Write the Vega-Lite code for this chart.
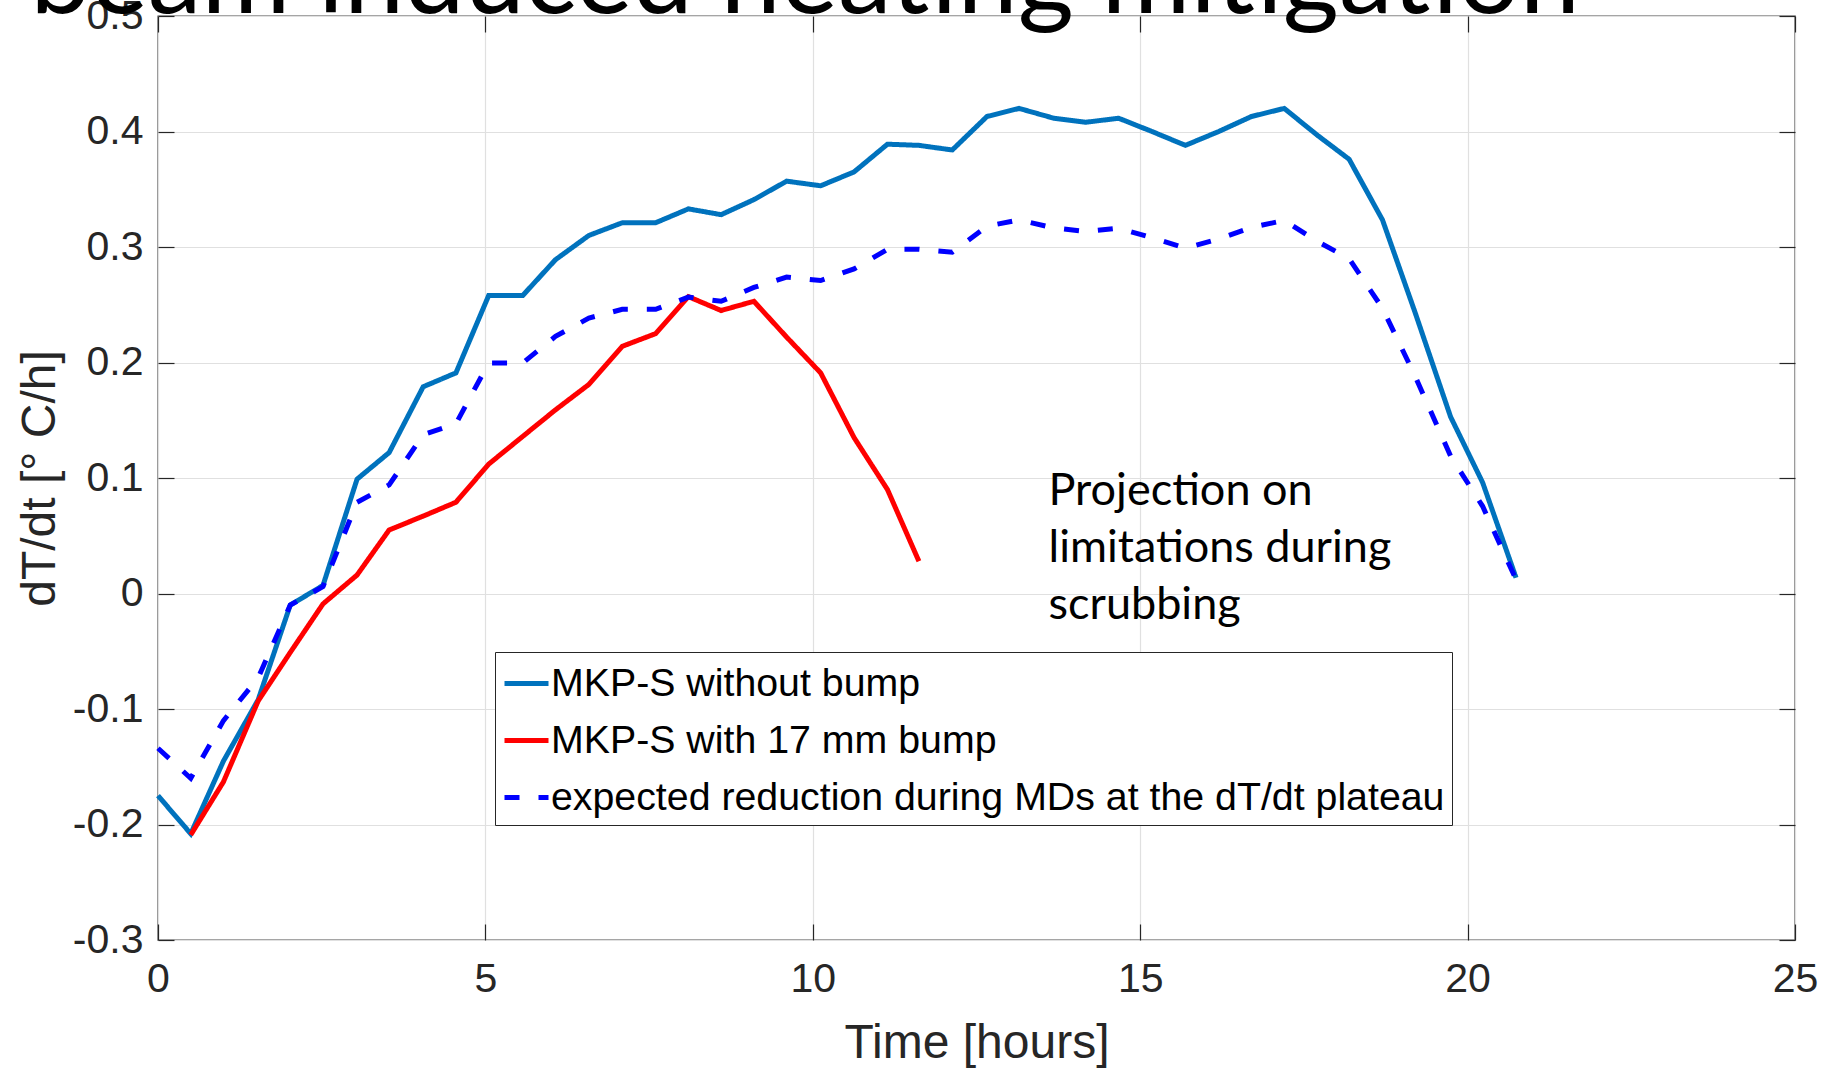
{
  "$schema": "https://vega.github.io/schema/vega-lite/v6.json",
  "width": 1637,
  "height": 924,
  "autosize": {"type": "none"},
  "padding": {"left": 158, "top": 16, "right": 40, "bottom": 129},
  "background": "white",
  "config": {
    "view": {"stroke": "#4d4d4d", "strokeWidth": 1.4},
    "axis": {
      "labelFont": "Liberation Sans",
      "titleFont": "Liberation Sans",
      "labelColor": "#262626",
      "titleColor": "#262626",
      "tickColor": "#262626",
      "tickWidth": 1.2,
      "gridColor": "#e0e0e0",
      "gridWidth": 1.2,
      "domain": false
    },
    "legend": {
      "orient": "none",
      "legendX": 337,
      "legendY": 636,
      "direction": "vertical",
      "padding": 7,
      "strokeColor": "#262626",
      "fillColor": "white",
      "labelFont": "Liberation Sans",
      "labelFontSize": 39.3,
      "labelColor": "black",
      "labelLimit": 2000,
      "labelOffset": 0,
      "symbolType": "stroke",
      "symbolSize": 1936,
      "symbolStrokeWidth": 5,
      "rowPadding": 12
    }
  },
  "datasets": {
    "curves": [
      {"t": 0, "v": -0.175, "s": "MKP-S without bump"},
      {"t": 0.5, "v": -0.208, "s": "MKP-S without bump"},
      {"t": 1.0, "v": -0.145, "s": "MKP-S without bump"},
      {"t": 1.53, "v": -0.092, "s": "MKP-S without bump"},
      {"t": 2.02, "v": -0.01, "s": "MKP-S without bump"},
      {"t": 2.52, "v": 0.007, "s": "MKP-S without bump"},
      {"t": 3.04, "v": 0.099, "s": "MKP-S without bump"},
      {"t": 3.53, "v": 0.122, "s": "MKP-S without bump"},
      {"t": 4.05, "v": 0.179, "s": "MKP-S without bump"},
      {"t": 4.55, "v": 0.191, "s": "MKP-S without bump"},
      {"t": 5.05, "v": 0.258, "s": "MKP-S without bump"},
      {"t": 5.57, "v": 0.258, "s": "MKP-S without bump"},
      {"t": 6.07, "v": 0.289, "s": "MKP-S without bump"},
      {"t": 6.58, "v": 0.31, "s": "MKP-S without bump"},
      {"t": 7.09, "v": 0.321, "s": "MKP-S without bump"},
      {"t": 7.6, "v": 0.321, "s": "MKP-S without bump"},
      {"t": 8.1, "v": 0.333, "s": "MKP-S without bump"},
      {"t": 8.6, "v": 0.328, "s": "MKP-S without bump"},
      {"t": 9.1, "v": 0.341, "s": "MKP-S without bump"},
      {"t": 9.6, "v": 0.357, "s": "MKP-S without bump"},
      {"t": 10.12, "v": 0.353, "s": "MKP-S without bump"},
      {"t": 10.63, "v": 0.365, "s": "MKP-S without bump"},
      {"t": 11.14, "v": 0.389, "s": "MKP-S without bump"},
      {"t": 11.62, "v": 0.388, "s": "MKP-S without bump"},
      {"t": 12.13, "v": 0.384, "s": "MKP-S without bump"},
      {"t": 12.66, "v": 0.413, "s": "MKP-S without bump"},
      {"t": 13.15, "v": 0.42, "s": "MKP-S without bump"},
      {"t": 13.68, "v": 0.4115, "s": "MKP-S without bump"},
      {"t": 14.17, "v": 0.408, "s": "MKP-S without bump"},
      {"t": 14.67, "v": 0.4115, "s": "MKP-S without bump"},
      {"t": 15.18, "v": 0.4, "s": "MKP-S without bump"},
      {"t": 15.69, "v": 0.388, "s": "MKP-S without bump"},
      {"t": 16.2, "v": 0.4, "s": "MKP-S without bump"},
      {"t": 16.7, "v": 0.413, "s": "MKP-S without bump"},
      {"t": 17.2, "v": 0.42, "s": "MKP-S without bump"},
      {"t": 17.7, "v": 0.397, "s": "MKP-S without bump"},
      {"t": 18.19, "v": 0.376, "s": "MKP-S without bump"},
      {"t": 18.7, "v": 0.3235, "s": "MKP-S without bump"},
      {"t": 19.2, "v": 0.243, "s": "MKP-S without bump"},
      {"t": 19.74, "v": 0.153, "s": "MKP-S without bump"},
      {"t": 20.23, "v": 0.096, "s": "MKP-S without bump"},
      {"t": 20.74, "v": 0.0136, "s": "MKP-S without bump"},
      {"t": 0.5, "v": -0.209, "s": "MKP-S with 17 mm bump"},
      {"t": 1.0, "v": -0.163, "s": "MKP-S with 17 mm bump"},
      {"t": 1.53, "v": -0.093, "s": "MKP-S with 17 mm bump"},
      {"t": 2.02, "v": -0.051, "s": "MKP-S with 17 mm bump"},
      {"t": 2.52, "v": -0.009, "s": "MKP-S with 17 mm bump"},
      {"t": 3.04, "v": 0.016, "s": "MKP-S with 17 mm bump"},
      {"t": 3.53, "v": 0.055, "s": "MKP-S with 17 mm bump"},
      {"t": 4.05, "v": 0.067, "s": "MKP-S with 17 mm bump"},
      {"t": 4.55, "v": 0.079, "s": "MKP-S with 17 mm bump"},
      {"t": 5.05, "v": 0.112, "s": "MKP-S with 17 mm bump"},
      {"t": 5.57, "v": 0.136, "s": "MKP-S with 17 mm bump"},
      {"t": 6.07, "v": 0.159, "s": "MKP-S with 17 mm bump"},
      {"t": 6.58, "v": 0.181, "s": "MKP-S with 17 mm bump"},
      {"t": 7.09, "v": 0.214, "s": "MKP-S with 17 mm bump"},
      {"t": 7.6, "v": 0.225, "s": "MKP-S with 17 mm bump"},
      {"t": 8.1, "v": 0.257, "s": "MKP-S with 17 mm bump"},
      {"t": 8.6, "v": 0.245, "s": "MKP-S with 17 mm bump"},
      {"t": 9.1, "v": 0.253, "s": "MKP-S with 17 mm bump"},
      {"t": 9.6, "v": 0.222, "s": "MKP-S with 17 mm bump"},
      {"t": 10.12, "v": 0.191, "s": "MKP-S with 17 mm bump"},
      {"t": 10.63, "v": 0.135, "s": "MKP-S with 17 mm bump"},
      {"t": 11.14, "v": 0.09, "s": "MKP-S with 17 mm bump"},
      {"t": 11.62, "v": 0.028, "s": "MKP-S with 17 mm bump"},
      {"t": 0, "v": -0.134, "s": "expected reduction during MDs at the dT/dt plateau"},
      {"t": 0.5, "v": -0.16, "s": "expected reduction during MDs at the dT/dt plateau"},
      {"t": 1.0, "v": -0.11, "s": "expected reduction during MDs at the dT/dt plateau"},
      {"t": 1.53, "v": -0.073, "s": "expected reduction during MDs at the dT/dt plateau"},
      {"t": 2.02, "v": -0.01, "s": "expected reduction during MDs at the dT/dt plateau"},
      {"t": 2.52, "v": 0.006, "s": "expected reduction during MDs at the dT/dt plateau"},
      {"t": 3.04, "v": 0.079, "s": "expected reduction during MDs at the dT/dt plateau"},
      {"t": 3.53, "v": 0.094, "s": "expected reduction during MDs at the dT/dt plateau"},
      {"t": 4.05, "v": 0.1375, "s": "expected reduction during MDs at the dT/dt plateau"},
      {"t": 4.55, "v": 0.147, "s": "expected reduction during MDs at the dT/dt plateau"},
      {"t": 5.05, "v": 0.1996, "s": "expected reduction during MDs at the dT/dt plateau"},
      {"t": 5.57, "v": 0.1996, "s": "expected reduction during MDs at the dT/dt plateau"},
      {"t": 6.07, "v": 0.2226, "s": "expected reduction during MDs at the dT/dt plateau"},
      {"t": 6.58, "v": 0.2385, "s": "expected reduction during MDs at the dT/dt plateau"},
      {"t": 7.09, "v": 0.246, "s": "expected reduction during MDs at the dT/dt plateau"},
      {"t": 7.6, "v": 0.246, "s": "expected reduction during MDs at the dT/dt plateau"},
      {"t": 8.1, "v": 0.2566, "s": "expected reduction during MDs at the dT/dt plateau"},
      {"t": 8.6, "v": 0.253, "s": "expected reduction during MDs at the dT/dt plateau"},
      {"t": 9.1, "v": 0.265, "s": "expected reduction during MDs at the dT/dt plateau"},
      {"t": 9.6, "v": 0.274, "s": "expected reduction during MDs at the dT/dt plateau"},
      {"t": 10.12, "v": 0.271, "s": "expected reduction during MDs at the dT/dt plateau"},
      {"t": 10.63, "v": 0.281, "s": "expected reduction during MDs at the dT/dt plateau"},
      {"t": 11.14, "v": 0.298, "s": "expected reduction during MDs at the dT/dt plateau"},
      {"t": 11.62, "v": 0.298, "s": "expected reduction during MDs at the dT/dt plateau"},
      {"t": 12.13, "v": 0.2955, "s": "expected reduction during MDs at the dT/dt plateau"},
      {"t": 12.66, "v": 0.318, "s": "expected reduction during MDs at the dT/dt plateau"},
      {"t": 13.15, "v": 0.3235, "s": "expected reduction during MDs at the dT/dt plateau"},
      {"t": 13.68, "v": 0.3165, "s": "expected reduction during MDs at the dT/dt plateau"},
      {"t": 14.17, "v": 0.3134, "s": "expected reduction during MDs at the dT/dt plateau"},
      {"t": 14.67, "v": 0.3163, "s": "expected reduction during MDs at the dT/dt plateau"},
      {"t": 15.18, "v": 0.308, "s": "expected reduction during MDs at the dT/dt plateau"},
      {"t": 15.69, "v": 0.299, "s": "expected reduction during MDs at the dT/dt plateau"},
      {"t": 16.2, "v": 0.307, "s": "expected reduction during MDs at the dT/dt plateau"},
      {"t": 16.7, "v": 0.317, "s": "expected reduction during MDs at the dT/dt plateau"},
      {"t": 17.2, "v": 0.323, "s": "expected reduction during MDs at the dT/dt plateau"},
      {"t": 17.7, "v": 0.305, "s": "expected reduction during MDs at the dT/dt plateau"},
      {"t": 18.19, "v": 0.29, "s": "expected reduction during MDs at the dT/dt plateau"},
      {"t": 18.7, "v": 0.247, "s": "expected reduction during MDs at the dT/dt plateau"},
      {"t": 19.2, "v": 0.188, "s": "expected reduction during MDs at the dT/dt plateau"},
      {"t": 19.74, "v": 0.119, "s": "expected reduction during MDs at the dT/dt plateau"},
      {"t": 20.23, "v": 0.0755, "s": "expected reduction during MDs at the dT/dt plateau"},
      {"t": 20.74, "v": 0.012, "s": "expected reduction during MDs at the dT/dt plateau"}
    ],
    "note": [
      {"tx": 13.6, "ty": 0.0888, "txt": "Projection on\nlimitations during\nscrubbing"}
    ],
    "heading": [
      {"tx": -1.95, "ty": 0.5026, "txt": "beam induced heating mitigation"}
    ]
  },
  "layer": [
    {
      "data": {"name": "curves"},
      "mark": {"type": "line", "strokeWidth": 5, "clip": false},
      "encoding": {
        "x": {
          "field": "t",
          "type": "quantitative",
          "scale": {"domain": [0, 25], "nice": false, "zero": false},
          "axis": {
            "values": [0, 5, 10, 15, 20, 25],
            "title": "Time [hours]",
            "labelFontSize": 41,
            "titleFontSize": 48,
            "titleFontWeight": "normal",
            "tickSize": -16,
            "labelPadding": 35,
            "titlePadding": 20,
            "grid": true,
            "labelFlush": false,
            "labelOverlap": false
          }
        },
        "y": {
          "field": "v",
          "type": "quantitative",
          "scale": {"domain": [-0.3, 0.5], "nice": false, "zero": false},
          "axis": {
            "values": [-0.3, -0.2, -0.1, 0, 0.1, 0.2, 0.3, 0.4, 0.5],
            "format": ".1~f",
            "labelExpr": "replace(datum.label, '−', '-')",
            "title": "dT/dt [° C/h]",
            "labelFontSize": 41,
            "titleFontSize": 48,
            "titleFontWeight": "normal",
            "tickSize": -16,
            "labelPadding": 31,
            "titlePadding": 8,
            "grid": true,
            "labelFlush": false,
            "labelOverlap": false
          }
        },
        "color": {
          "field": "s",
          "type": "nominal",
          "scale": {
            "domain": ["MKP-S without bump", "MKP-S with 17 mm bump", "expected reduction during MDs at the dT/dt plateau"],
            "range": ["#0072BD", "#FF0000", "#0000FF"]
          },
          "legend": {"title": null}
        },
        "strokeDash": {
          "field": "s",
          "type": "nominal",
          "scale": {
            "domain": ["MKP-S without bump", "MKP-S with 17 mm bump", "expected reduction during MDs at the dT/dt plateau"],
            "range": [[1, 0], [1, 0], [15, 19]]
          },
          "legend": {"title": null}
        }
      }
    },
    {
      "data": {"name": "note"},
      "mark": {
        "type": "text",
        "align": "left",
        "baseline": "middle",
        "font": "Lato",
        "fontSize": 45,
        "lineHeight": 57,
        "lineBreak": "\n",
        "color": "black"
      },
      "encoding": {
        "x": {
          "field": "tx",
          "type": "quantitative",
          "scale": {"domain": [0, 25], "nice": false, "zero": false},
          "axis": {
            "orient": "top",
            "values": [0, 5, 10, 15, 20, 25],
            "labels": false,
            "title": null,
            "tickSize": -16,
            "grid": false
          }
        },
        "y": {
          "field": "ty",
          "type": "quantitative",
          "scale": {"domain": [-0.3, 0.5], "nice": false, "zero": false},
          "axis": {
            "orient": "right",
            "values": [-0.3, -0.2, -0.1, 0, 0.1, 0.2, 0.3, 0.4, 0.5],
            "labels": false,
            "title": null,
            "tickSize": -16,
            "grid": false
          }
        },
        "text": {"field": "txt", "type": "nominal"}
      }
    },
    {
      "data": {"name": "heading"},
      "mark": {
        "type": "text",
        "align": "left",
        "baseline": "alphabetic",
        "font": "Lato",
        "fontSize": 108,
        "color": "black",
        "clip": false
      },
      "encoding": {
        "x": {
          "field": "tx",
          "type": "quantitative",
          "scale": {"domain": [0, 25], "nice": false, "zero": false},
          "axis": null
        },
        "y": {
          "field": "ty",
          "type": "quantitative",
          "scale": {"domain": [-0.3, 0.5], "nice": false, "zero": false},
          "axis": null
        },
        "text": {"field": "txt", "type": "nominal"}
      }
    }
  ],
  "resolve": {
    "scale": {"x": "independent", "y": "independent"},
    "axis": {"x": "independent", "y": "independent"}
  }
}
